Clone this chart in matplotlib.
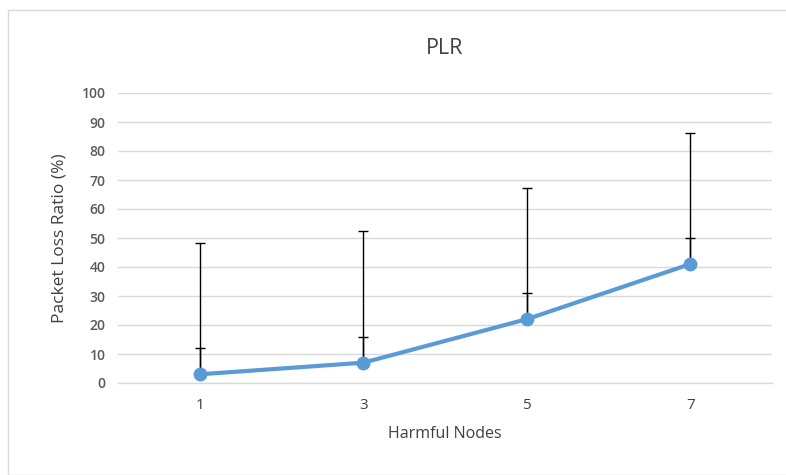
import matplotlib
matplotlib.use("Agg")
import matplotlib.pyplot as plt
from matplotlib.patches import Rectangle

categories = ["1", "3", "5", "7"]
plr = [3, 7, 22, 41]
err_small = [9, 9, 9, 9]
err_large = [45.4, 45.4, 45.4, 45.3]
yticks = [0, 10, 20, 30, 40, 50, 60, 70, 80, 90, 100]

plt.rcParams['font.family'] = ['Open Sans', 'DejaVu Sans']
txt = '#595959'

fig = plt.figure(figsize=(7.86, 4.75), dpi=100)
fig.patches.append(Rectangle((8/786, 0), 1, 1 - 10/475, transform=fig.transFigure,
                             fill=False, edgecolor='#D9D9D9', linewidth=1.0))
ax = fig.add_axes([118/786, 1 - 383/475, (772 - 118)/786, (383 - 93)/475])

x = list(range(len(categories)))
ax.errorbar(x, plr, yerr=[[0]*4, err_large], fmt='none', ecolor='black',
            elinewidth=1.0, capsize=3.5, capthick=1.0, zorder=3)
ax.errorbar(x, plr, yerr=[[0]*4, err_small], fmt='none', ecolor='black',
            elinewidth=1.0, capsize=3.5, capthick=1.0, zorder=3)
ax.plot(x, plr, color='#5B9BD5', linewidth=3.0, marker='o', markersize=9,
        solid_capstyle='round', zorder=4)

ax.set_xlim(-0.5, len(categories) - 0.5)
ax.set_ylim(0, 100)
ax.set_yticks(yticks)
ax.set_xticks(x)
ax.set_xticklabels(categories)
ax.yaxis.grid(True, color='#D9D9D9', linewidth=1.0)
ax.set_axisbelow(True)
for s in ['top', 'right', 'left']:
    ax.spines[s].set_visible(False)
ax.spines['bottom'].set_color('#D9D9D9')
ax.spines['bottom'].set_linewidth(1.0)
ax.tick_params(axis='both', length=0, colors='#404040')
ax.tick_params(axis='y', pad=9, labelsize=10)
ax.tick_params(axis='x', pad=11, labelsize=11)
for lab in ax.get_yticklabels():
    lab.set_fontweight('semibold')
    lab.set_color(txt)

ax.set_title('PLR', fontsize=15.5, color='#404040', pad=28)
ax.set_xlabel('Harmful Nodes', fontsize=11.5, color='#404040', labelpad=9)
ax.set_ylabel('Packet Loss Ratio (%)', fontsize=12.5, color='#404040', labelpad=10)

fig.savefig('out.png', dpi=100)
